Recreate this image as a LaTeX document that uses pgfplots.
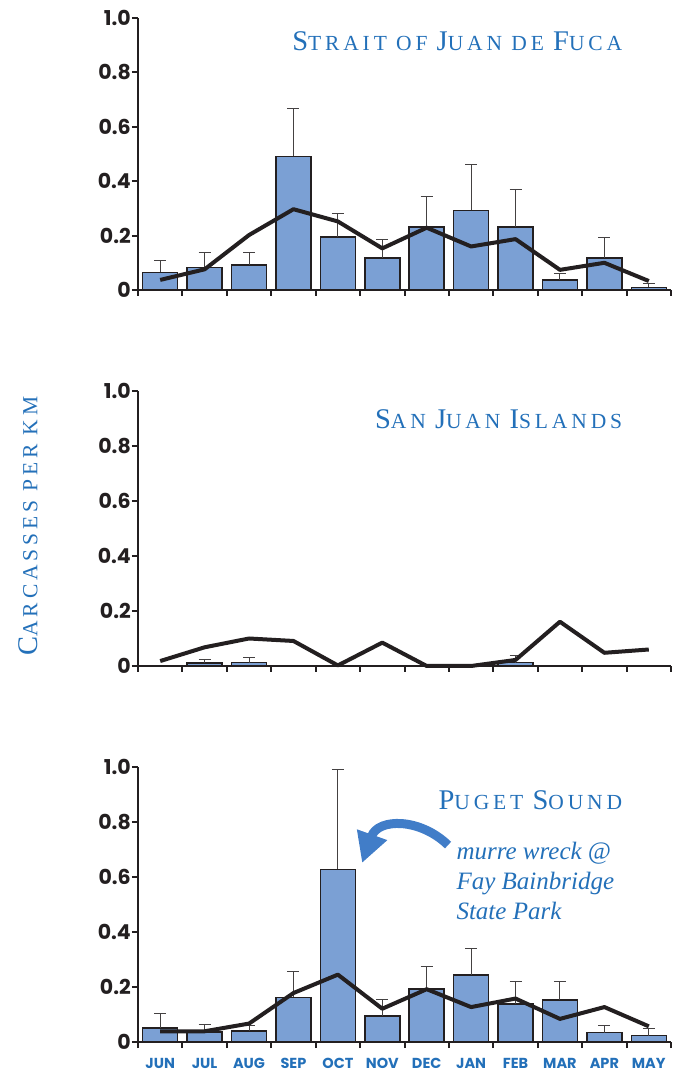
\documentclass[border=0pt]{standalone}
\usepackage{fontspec}
\usepackage{pgfplots}
\pgfplotsset{compat=1.18}
\usetikzlibrary{arrows.meta}
\newfontfamily\tickfont{Poppins}
\newfontfamily\serifsc{Liberation Serif}[LetterSpace=18]
\newfontfamily\serifit{Liberation Serif}
\definecolor{barblue}{RGB}{123,160,212}
\definecolor{titleblue}{RGB}{35,112,185}
\definecolor{arrowblue}{RGB}{65,125,200}
\definecolor{darkline}{RGB}{35,31,32}
\newcommand\Bc[1]{{\fontsize{28.5}{28.5}\selectfont #1}}
\newcommand\scfont{\serifsc\fontsize{21.5}{21.5}\selectfont}

\pgfplotsset{
  panel/.style={
    width=533pt, scale only axis,
    xmin=-0.5, xmax=11.5, ymin=0, ymax=1,
    axis lines*=left,
    axis line style={line width=2.5pt, darkline, -},
    clip=false,
    tick align=outside, tick pos=left,
    major tick length=6pt,
    tick style={line width=2pt, darkline},
    xtick={-0.5,0.5,...,11.5}, xticklabels={},
    ytick={0,0.2,0.4,0.6,0.8,1.0},
    yticklabels={0,0.2,0.4,0.6,0.8,1.0},
    yticklabel style={font=\tickfont\bfseries\fontsize{20.5}{20.5}\selectfont, text=darkline, inner sep=1pt},
  },
  bars/.style={ybar, bar width=35pt, fill=barblue, draw=darkline, line width=1.5pt,
    error bars/.cd, y dir=plus, y explicit, error mark=|,
    error bar style={line width=1pt, color=darkline!85},
    error mark options={mark size=6pt, line width=1pt, darkline!85}},
  trend/.style={line width=4pt, darkline, mark=none, line join=round},
}

\begin{document}
\begin{tikzpicture}
\path[use as bounding box] (-138pt,-32pt) rectangle (537pt,1042pt);

% ---------- Strait of Juan de Fuca ----------
\begin{axis}[panel, height=272pt, at={(0pt,752pt)}, anchor=south west]
\addplot[bars] table[x=x, y=y, y error plus=e] {
x y e
0 0.065 0.043
1 0.083 0.054
2 0.092 0.047
3 0.491 0.178
4 0.195 0.086
5 0.118 0.066
6 0.232 0.110
7 0.293 0.168
8 0.232 0.136
9 0.037 0.024
10 0.118 0.075
11 0.010 0.015
};
\addplot[trend] coordinates {(0,0.037) (1,0.076) (2,0.202) (3,0.297) (4,0.252) (5,0.153) (6,0.229) (7,0.160) (8,0.187) (9,0.074) (10,0.100) (11,0.033)};
\node[anchor=base east, text=titleblue, font=\scfont] at (rel axis cs:0.915,0.879) {\Bc{S}TRAIT OF \Bc{J}UAN DE \Bc{F}UCA};
\end{axis}

% ---------- San Juan Islands ----------
\begin{axis}[panel, height=275pt, at={(0pt,376pt)}, anchor=south west]
\addplot[bars] table[x=x, y=y, y error plus=e] {
x y e
1 0.010 0.014
2 0.012 0.019
8 0.012 0.025
};
\addplot[trend] coordinates {(0,0.018) (1,0.068) (2,0.100) (3,0.091) (4,0.002) (5,0.085) (6,0.000) (7,0.000) (8,0.022) (9,0.161) (10,0.048) (11,0.060)};
\node[anchor=base east, text=titleblue, font=\scfont] at (rel axis cs:0.915,0.865) {\Bc{S}AN \Bc{J}UAN \Bc{I}SLANDS};
\end{axis}

% ---------- Puget Sound ----------
\begin{axis}[panel, height=275pt, at={(0pt,0pt)}, anchor=south west,
  extra x ticks={0,1,...,11},
  extra x tick labels={JUN,JUL,AUG,SEP,OCT,NOV,DEC,JAN,FEB,MAR,APR,MAY},
  extra x tick style={major tick length=0pt,
    xticklabel style={font=\tickfont\bfseries\fontsize{14.5}{14.5}\selectfont, text=titleblue, yshift=-13pt}}]
\addplot[bars] table[x=x, y=y, y error plus=e] {
x y e
0 0.051 0.052
1 0.036 0.028
2 0.040 0.020
3 0.162 0.095
4 0.628 0.363
5 0.095 0.059
6 0.192 0.083
7 0.244 0.095
8 0.139 0.080
9 0.153 0.066
10 0.034 0.025
11 0.023 0.025
};
\addplot[trend] coordinates {(0,0.039) (1,0.039) (2,0.067) (3,0.178) (4,0.245) (5,0.121) (6,0.192) (7,0.127) (8,0.158) (9,0.084) (10,0.127) (11,0.057)};
\node[anchor=base east, text=titleblue, font=\scfont] at (rel axis cs:0.915,0.847) {\Bc{P}UGET \Bc{S}OUND};
\node[anchor=base west, text=titleblue, font=\serifit\itshape\fontsize{25}{25}\selectfont] at (rel axis cs:0.591,0.662) {murre wreck @};
\node[anchor=base west, text=titleblue, font=\serifit\itshape\fontsize{25}{25}\selectfont] at (rel axis cs:0.591,0.553) {Fay Bainbridge};
\node[anchor=base west, text=titleblue, font=\serifit\itshape\fontsize{25}{25}\selectfont] at (rel axis cs:0.591,0.444) {State Park};
\draw[line width=9pt, arrowblue, -{Triangle[length=30pt,width=30pt]}]
  (axis cs:6.48,0.716) .. controls (axis cs:5.85,0.815) and (axis cs:4.905,0.815) .. (axis cs:4.545,0.651);
\end{axis}

\node[rotate=90, text=titleblue, font=\scfont] at (-110pt,516pt) {\Bc{C}ARCASSES PER KM};
\end{tikzpicture}
\end{document}
